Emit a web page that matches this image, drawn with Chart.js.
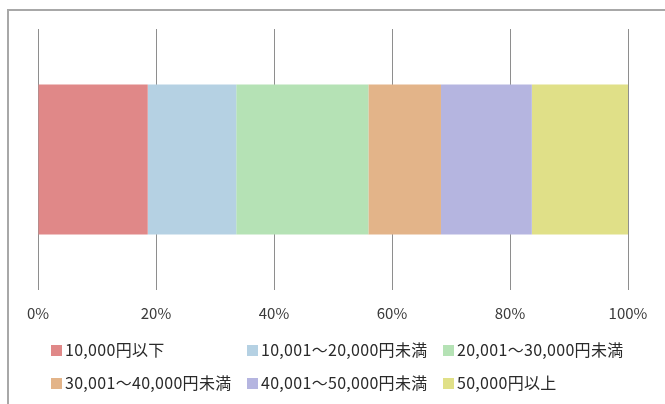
<!DOCTYPE html>
<html lang="ja">
<head>
  <meta charset="UTF-8">
  <title>金額分布</title>
  <script src="https://cdn.jsdelivr.net/npm/chart.js"></script>
  <style>
    body { margin: 0; background: #fff; width: 665px; height: 404px; overflow: hidden; position: relative; }
    .frame { position: absolute; left: 7px; top: 9px; width: 700px; height: 420px;
             border-left: 2px solid #a8a8a8; border-top: 2px solid #a8a8a8; }
    #wrap { position: absolute; left: 0; top: 0; width: 665px; height: 404px; }
    #legend { position: absolute; left: 51px; top: 332px; display: grid;
              grid-template-columns: 196px 196px 196px; grid-auto-rows: 33px;
              font-family: "Noto Sans CJK JP", sans-serif; font-size: 16px; color: #2a2a2a;
              letter-spacing: 0.3px; }
    #legend .item { display: flex; align-items: center; white-space: nowrap; }
    #legend .box { width: 11px; height: 11px; margin-right: 3px; margin-top: 3px; }
  </style>
</head>
<body>
  <div class="frame"></div>
  <div id="wrap"><canvas id="myChart" width="665" height="404"></canvas></div>
  <div id="legend"></div>

  <script>
    // data (share of each price band, %)
    const categories = [''];
    const seriesLabels = ['10,000円以下', '10,001～20,000円未満', '20,001～30,000円未満',
                          '30,001～40,000円未満', '40,001～50,000円未満', '50,000円以上'];
    const seriesValues = [18.6, 15.0, 22.4, 12.3, 15.4, 16.3];
    const seriesColors = ['#E08888', '#B5D1E3', '#B5E2B5', '#E3B489', '#B5B5E0', '#E0E088'];
    const tickValues = [0, 20, 40, 60, 80, 100];

    const datasets = seriesLabels.map((label, i) => ({
      label,
      data: [seriesValues[i]],
      backgroundColor: seriesColors[i],
      borderWidth: 0,
      categoryPercentage: 1,
      barPercentage: 0.574,
    }));

    const ctx = document.getElementById('myChart').getContext('2d');
    new Chart(ctx, {
      type: 'bar',
      data: { labels: categories, datasets },
      options: {
        indexAxis: 'y',
        responsive: false,
        animation: false,
        layout: { padding: { left: 38, right: 37, top: 29, bottom: 68 } },
        plugins: { legend: { display: false }, tooltip: { enabled: false } },
        scales: {
          x: {
            stacked: true,
            min: 0,
            max: 100,
            afterBuildTicks: (axis) => { axis.ticks = tickValues.map((v) => ({ value: v })); },
            grid: { color: '#8e8e8e', lineWidth: 1, drawTicks: false },
            border: { display: false },
            ticks: {
              padding: 14,
              color: '#3a3a3a',
              font: { family: '"Noto Sans CJK JP", sans-serif', size: 15 },
              callback: (v) => v + '%',
            },
          },
          y: { stacked: true, display: false },
        },
      },
    });

    // legend in three columns like the original
    const legend = document.getElementById('legend');
    seriesLabels.forEach((label, i) => {
      const item = document.createElement('div');
      item.className = 'item';
      item.innerHTML = `<span class="box" style="background:${seriesColors[i]}"></span><span>${label}</span>`;
      legend.appendChild(item);
    });
  </script>
</body>
</html>
